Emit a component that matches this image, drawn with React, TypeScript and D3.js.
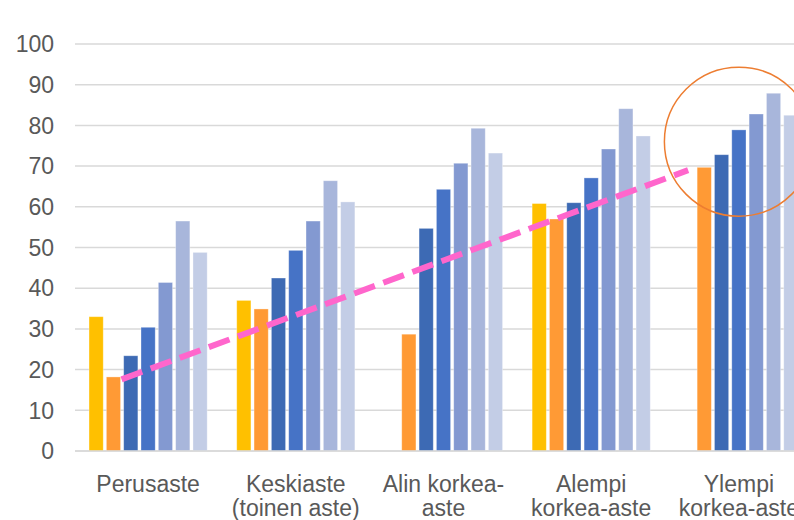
import React from "react";
import * as d3 from "d3";

const categories: string[][] = [
  ["Perusaste"],
  ["Keskiaste", "(toinen aste)"],
  ["Alin korkea-", "aste"],
  ["Alempi", "korkea-aste"],
  ["Ylempi", "korkea-aste"],
];
const seriesNames = ["s1", "s2", "s3", "s4", "s5", "s6", "s7"];
const seriesColors = ["#FFC000", "#FF9A35", "#3D6AB4", "#4673C6", "#8399D1", "#A8B6DB", "#C3CDE6"];
const s1 = [33, 37, null, 60.8, null];
const s2 = [18.2, 34.9, 28.7, 57, 69.7];
const s3 = [23.4, 42.5, 54.7, 61, 72.8];
const s4 = [30.4, 49.3, 64.3, 67.1, 78.9];
const s5 = [41.4, 56.5, 70.7, 74.2, 82.8];
const s6 = [56.5, 66.4, 79.3, 84.1, 87.9];
const s7 = [48.8, 61.2, 73.2, 77.4, 82.5];
const seriesValues = [s1, s2, s3, s4, s5, s6, s7];
const yTicks = [0, 10, 20, 30, 40, 50, 60, 70, 80, 90, 100];
// annotation: dashed trend from Perusaste orange to Ylempi orange
const trendFrom = { cat: 0, value: 17.6 };
const trendTo = { cat: 4, value: 69.0 };
const circleCenter = { cat: 4, value: 76 };

const W = 794;
const H = 520;
const FONT = "'Liberation Sans', Arial, sans-serif";

export default function App() {
  const catKeys = categories.map((c) => c.join(" "));
  const x0 = d3.scaleBand<string>().domain(catKeys).range([75, 812]).paddingInner(0.2).paddingOuter(0.095);
  const x1 = d3.scaleBand<string>().domain(seriesNames).range([0, x0.bandwidth()]).paddingInner(0.18);
  const y = d3.scaleLinear().domain([0, 100]).range([451, 44]);

  const barCenter = (ci: number, si: number) => (x0(catKeys[ci]) as number) + (x1(seriesNames[si]) as number) + x1.bandwidth() / 2;
  const catCenter = (ci: number) => (x0(catKeys[ci]) as number) + x0.bandwidth() / 2;

  const tx1 = barCenter(trendFrom.cat, 1) + x1.bandwidth() / 2 + 1;
  const tx2 = barCenter(trendTo.cat, 1) - x1.bandwidth() / 2 - 9;

  return (
    <div style={{ position: "fixed", left: 0, top: 0 }}>
      <svg width={W} height={H} style={{ display: "block", background: "#fff" }}>
        {yTicks.map((t) => (
          <g key={t}>
            <line x1={75} x2={812} y1={y(t)} y2={y(t)} stroke="#D9D9D9" strokeWidth={1.5} />
            <text x={54} y={y(t)} dy="0.36em" textAnchor="end" fontFamily={FONT} fontSize={23} fill="#595959">
              {t}
            </text>
          </g>
        ))}
        {seriesValues.map((vals, si) =>
          vals.map((v, ci) =>
            v == null ? null : (
              <rect
                key={`${si}-${ci}`}
                x={(x0(catKeys[ci]) as number) + (x1(seriesNames[si]) as number)}
                y={y(v)}
                width={x1.bandwidth()}
                height={y(0) - y(v)}
                fill={seriesColors[si]}
                stroke="#ffffff"
                strokeOpacity={0.4}
                strokeWidth={0.8}
              />
            )
          )
        )}
        <line x1={75} x2={812} y1={y(0)} y2={y(0)} stroke="#D9D9D9" strokeWidth={1.5} />
        <line
          x1={tx1}
          y1={y(trendFrom.value)}
          x2={tx2}
          y2={y(trendTo.value)}
          stroke="#FF66CC"
          strokeWidth={6}
          strokeDasharray="22 9"
        />
        <circle
          cx={catCenter(circleCenter.cat)}
          cy={y(circleCenter.value)}
          r={74.5}
          fill="none"
          stroke="#ED7D31"
          strokeWidth={1.5}
        />
        {categories.map((lines, ci) => (
          <text key={ci} textAnchor="middle" fontFamily={FONT} fontSize={23} fill="#595959">
            {lines.map((ln, li) => (
              <tspan key={li} x={catCenter(ci)} y={492 + li * 24}>
                {ln}
              </tspan>
            ))}
          </text>
        ))}
      </svg>
    </div>
  );
}
